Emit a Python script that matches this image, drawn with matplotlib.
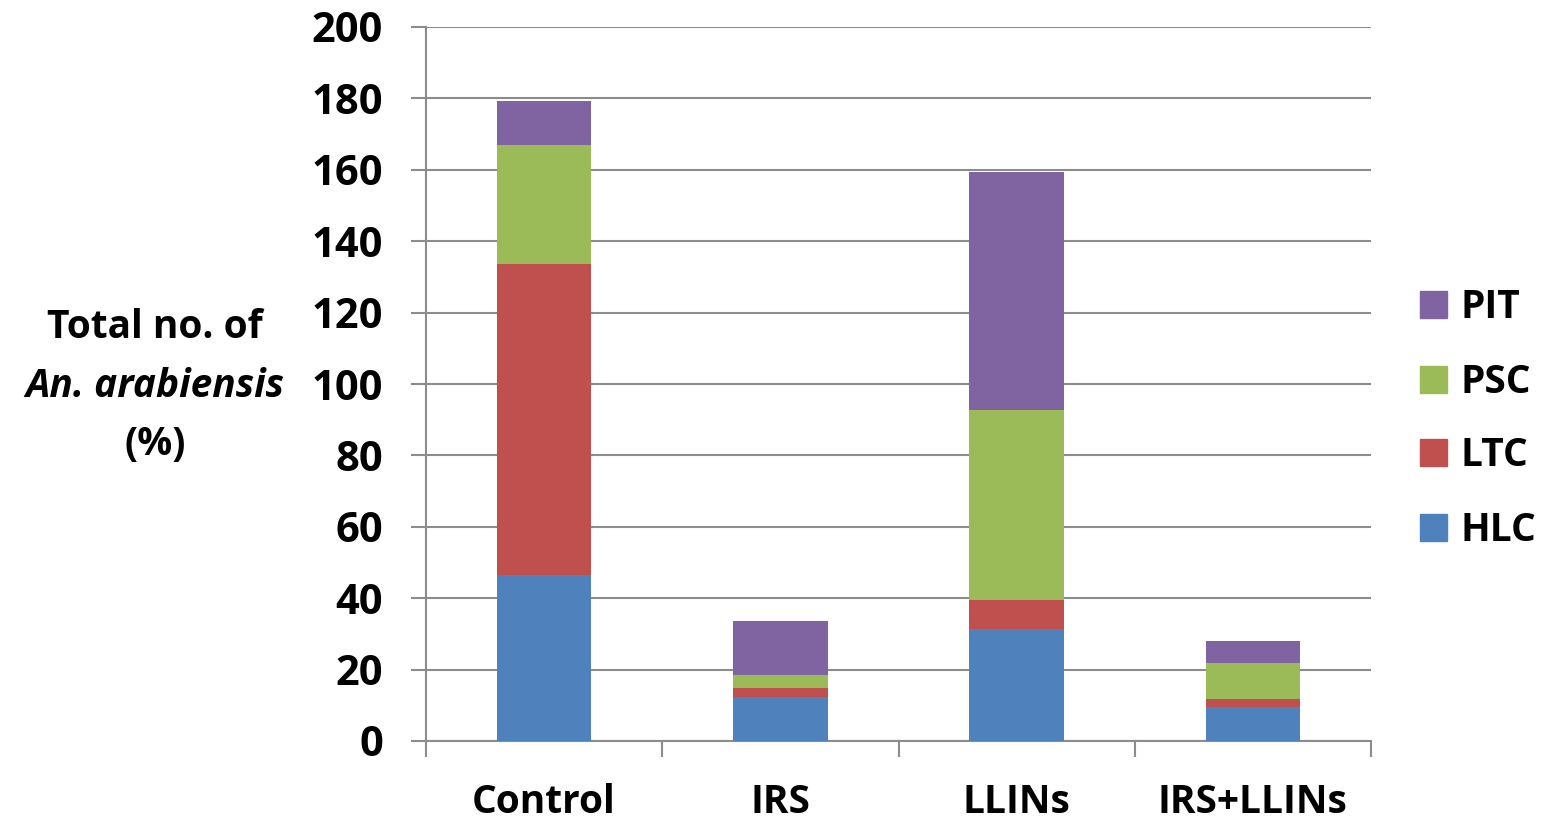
import matplotlib
matplotlib.use("Agg")
import matplotlib.pyplot as plt
import numpy as np
from matplotlib.patches import Rectangle

categories = ["Control", "IRS", "LLINs", "IRS+LLINs"]
series_names = ["HLC", "LTC", "PSC", "PIT"]
hlc = [46.5, 12.3, 31.4, 9.5]
ltc = [87.1, 2.5, 8.1, 2.3]
psc = [33.4, 3.7, 53.2, 10.0]
pit = [12.3, 15.1, 66.7, 6.2]
colors = ["#4F81BD", "#C0504D", "#9BBB59", "#8064A2"]
yticks = [0, 20, 40, 60, 80, 100, 120, 140, 160, 180, 200]

plt.rcParams['font.family'] = ['Open Sans', 'DejaVu Sans']
plt.rcParams['font.weight'] = 'bold'

fig = plt.figure(figsize=(15.45, 8.23), dpi=100)
W, H = 1545, 823
ax = fig.add_axes([426 / W, 1 - 741 / H, (1371 - 426) / W, (741 - 27) / H])

x = np.arange(len(categories))
bottom = np.zeros(len(categories))
for vals, name, c in zip([hlc, ltc, psc, pit], series_names, colors):
    ax.bar(x, vals, width=0.4, bottom=bottom, color=c, label=name, zorder=3)
    bottom += np.array(vals)

ax.set_xlim(-0.5, 3.5)
ax.set_ylim(0, 200)
ax.set_yticks(yticks)
ax.set_yticklabels([str(t) for t in yticks], fontsize=30, fontweight='bold')
ax.yaxis.grid(True, color='#8C8C8C', linewidth=1.5, zorder=0)
ax.set_axisbelow(True)

ax.set_xticks(x)
ax.set_xticklabels(categories, fontsize=28, fontweight='bold')
ax.tick_params(axis='x', length=0, pad=30)
ax.set_xticks(np.arange(-0.5, 4.0, 1.0), minor=True)
ax.tick_params(axis='x', which='minor', length=11.5, width=1.5, color='#8C8C8C', direction='out')
ax.tick_params(axis='y', length=11, width=1.5, color='#8C8C8C', pad=20)

for s in ['top', 'right']:
    ax.spines[s].set_visible(False)
for s in ['left', 'bottom']:
    ax.spines[s].set_color('#8C8C8C')
    ax.spines[s].set_linewidth(1.5)

# legend (reversed order, as in the reference)
leg_rows = [304, 379, 452, 527]
for (name, c), yc in zip(list(zip(series_names, colors))[::-1], leg_rows):
    fig.patches.append(Rectangle((1420 / W, 1 - (yc + 13.5) / H), 27 / W, 27 / H,
                                 transform=fig.transFigure, color=c, figure=fig))
    fig.text(1460 / W, 1 - (yc + 14) / H, name, ha='left', va='baseline',
             fontsize=28, fontweight='bold')

fig.text(155 / W, 1 - 327 / H, "Total no. of", ha='center', va='center', fontsize=28, fontweight='bold')
fig.text(155 / W, 1 - 386 / H, "An. arabiensis", ha='center', va='center', fontsize=28,
         fontweight='bold', style='italic')
fig.text(155 / W, 1 - 445 / H, "(%)", ha='center', va='center', fontsize=28, fontweight='bold')

fig.savefig("out.png", dpi=100)
